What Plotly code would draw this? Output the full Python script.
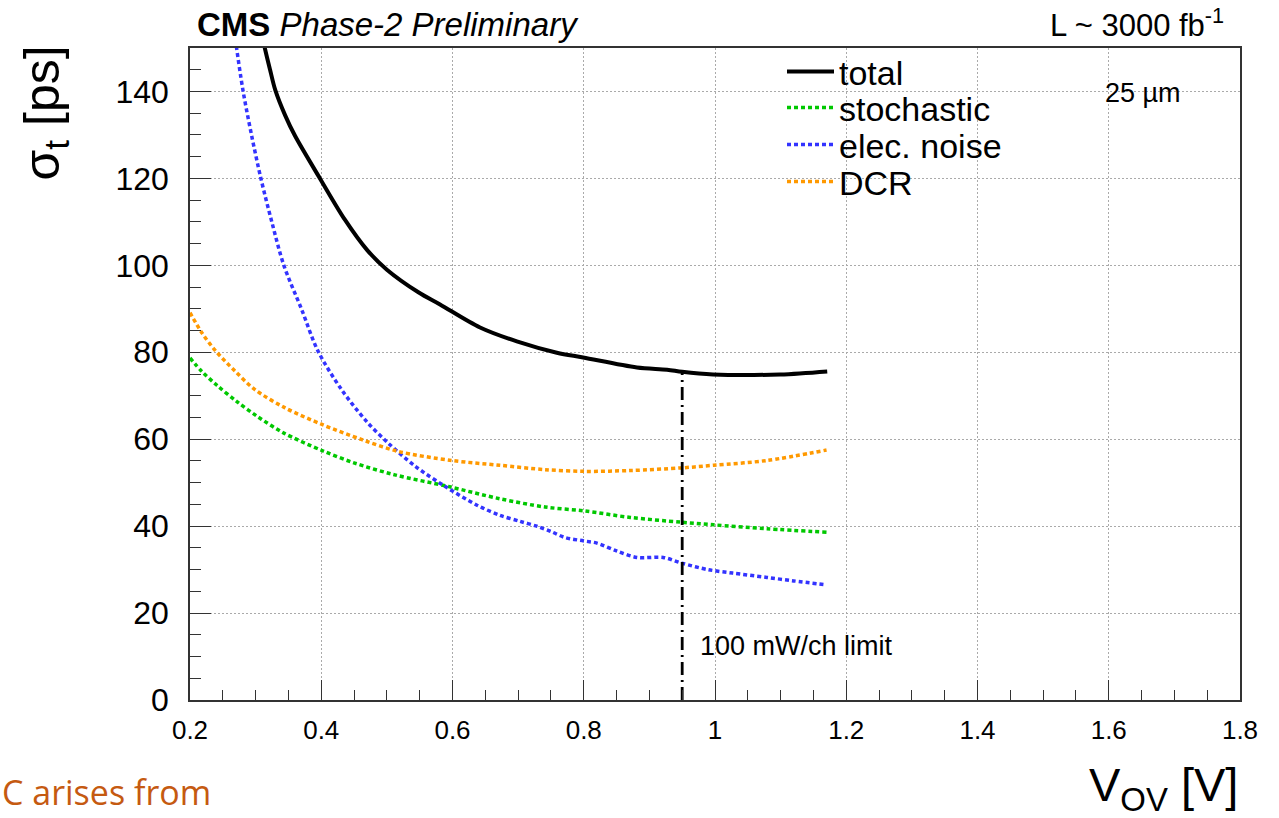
import numpy as np
import plotly.graph_objects as go

# ---------------- data ----------------
x_total = [0.300, 0.314, 0.322, 0.330, 0.345, 0.360, 0.398, 0.436, 0.470, 0.500, 0.548,
           0.581, 0.642, 0.698, 0.759, 0.799, 0.881, 0.927, 0.950, 0.997, 1.099, 1.171]
y_total = [160.0, 150.0, 145.0, 140.3, 134.5, 129.8, 120.0, 110.5, 103.5, 99.0, 93.8,
           91.0, 85.7, 82.5, 79.9, 78.8, 76.5, 76.0, 75.5, 74.9, 74.9, 75.6]

x_stoch = [0.200, 0.218, 0.241, 0.271, 0.302, 0.342, 0.401, 0.451, 0.512, 0.594, 0.672,
           0.741, 0.801, 0.871, 0.949, 0.998, 1.079, 1.170]
y_stoch = [78.7, 75.6, 72.4, 68.7, 65.3, 61.5, 57.4, 54.5, 51.8, 49.1, 46.3,
           44.4, 43.5, 42.0, 40.9, 40.3, 39.4, 38.6]

x_noise = [0.262, 0.271, 0.281, 0.294, 0.308, 0.325, 0.343, 0.370, 0.395, 0.431, 0.469,
           0.502, 0.543, 0.589, 0.639, 0.672, 0.703, 0.730, 0.751, 0.771, 0.800, 0.820,
           0.850, 0.881, 0.921, 0.949, 0.989, 1.027, 1.079, 1.120, 1.170]
y_noise = [160.0, 150.0, 140.0, 129.8, 120.0, 109.8, 100.0, 89.9, 80.3, 71.4, 64.1,
           59.1, 53.8, 49.1, 44.7, 42.5, 41.1, 39.9, 38.7, 37.4, 36.6, 36.1,
           34.3, 32.8, 32.8, 31.5, 30.0, 29.2, 28.2, 27.4, 26.5]

x_dcr = [0.200, 0.218, 0.238, 0.269, 0.299, 0.345, 0.401, 0.462, 0.517, 0.599, 0.672,
         0.741, 0.801, 0.871, 0.949, 0.998, 1.079, 1.170]
y_dcr = [89.1, 84.5, 80.5, 75.6, 71.4, 67.2, 63.4, 59.9, 57.2, 55.1, 54.0,
         53.0, 52.6, 52.8, 53.4, 54.0, 55.1, 57.5]

power_limit_v = 0.95

x_tickvals = [0.2, 0.4, 0.6, 0.8, 1.0, 1.2, 1.4, 1.6, 1.8]
x_ticktext = ["0.2", "0.4", "0.6", "0.8", "1", "1.2", "1.4", "1.6", "1.8"]
y_tickvals = [0, 20, 40, 60, 80, 100, 120, 140]
y_ticktext = ["0", "20", "40", "60", "80", "100", "120", "140"]

# ---------------- figure ----------------
FONT = "Liberation Sans, Arial, Helvetica, sans-serif"
W, H = 1279, 818
L, R, T, B = 190, 39, 48, 118
pw, ph = W - L - R, H - T - B


def px2paper_x(p):
    return (p - L) / pw


def px2paper_y(p):
    return (H - B - p) / ph


fig = go.Figure()

dotdash = "4px,3px"
series = [
    ("total", x_total, y_total, dict(color="black", width=4), "legend", 72),
    ("stochastic", x_stoch, y_stoch, dict(color="#00c800", width=3.5, dash=dotdash), "legend2", 108),
    ("elec. noise", x_noise, y_noise, dict(color="#3333ff", width=3.5, dash=dotdash), "legend3", 145),
    ("DCR", x_dcr, y_dcr, dict(color="#ff9900", width=3.5, dash=dotdash), "legend4", 182),
]
legend_layouts = {}
for name, xs, ys, ln, leg, row_py in series:
    fig.add_trace(go.Scatter(x=xs, y=ys, mode="lines", name=name, legend=leg,
                             line=dict(shape="spline", smoothing=0.9, **ln)))
    legend_layouts[leg] = dict(
        x=px2paper_x(782), y=px2paper_y(row_py), xanchor="left", yanchor="middle",
        bgcolor="rgba(0,0,0,0)", borderwidth=0, itemwidth=47,
        font=dict(size=34, family=FONT, color="black"),
    )

# vertical power-limit line up to the total curve
y_at_limit = float(np.interp(power_limit_v, x_total, y_total))
fig.add_trace(go.Scatter(x=[power_limit_v, power_limit_v], y=[0, y_at_limit], mode="lines",
                         showlegend=False, hoverinfo="skip",
                         line=dict(color="black", width=2.8, dash="13px,5px,2px,5px")))

axis_common = dict(
    showline=True, linecolor="#333333", linewidth=1.5, mirror=True,
    showgrid=True, gridcolor="#aaaaaa", gridwidth=1, griddash="2px,2px",
    ticks="inside", tickcolor="#333333", tickwidth=1.2,
    zeroline=False, tickfont=dict(family=FONT, color="black"),
)

fig.update_xaxes(**axis_common, range=[0.2, 1.8], tickvals=x_tickvals, ticktext=x_ticktext,
                 ticklen=20, tickfont_size=26, ticklabelstandoff=6,
                 minor=dict(dtick=0.05, tick0=0.2, ticks="inside", ticklen=10,
                            tickcolor="#333333", tickwidth=1.2, showgrid=False))
fig.update_yaxes(**axis_common, range=[0, 150], tickvals=y_tickvals, ticktext=y_ticktext,
                 ticklen=21, tickfont_size=32, ticklabelstandoff=13,
                 minor=dict(dtick=5, tick0=0, ticks="inside", ticklen=11,
                            tickcolor="#333333", tickwidth=1.2, showgrid=False))

# white boxes (legend pave and label pave) hiding the grid
shapes = [
    dict(type="rect", xref="paper", yref="paper", layer="between",
         x0=px2paper_x(775), x1=px2paper_x(1018), y0=px2paper_y(204), y1=px2paper_y(55),
         fillcolor="white", line=dict(width=0)),
    dict(type="rect", xref="paper", yref="paper", layer="between",
         x0=px2paper_x(1075), x1=px2paper_x(1212), y0=px2paper_y(120), y1=px2paper_y(63),
         fillcolor="white", line=dict(width=0)),
]

annotations = [
    # header
    dict(text="<b>CMS</b> <i>Phase-2 Preliminary</i>", x=px2paper_x(195), y=px2paper_y(45),
         xanchor="left", yanchor="bottom", font=dict(size=33, family=FONT, color="black")),
    dict(text="L ~ 3000 fb<sup>-1</sup>", x=px2paper_x(1226), y=px2paper_y(45),
         xanchor="right", yanchor="bottom", font=dict(size=31, family=FONT, color="black")),
    dict(text="25 µm", x=px2paper_x(1143), y=px2paper_y(93), xanchor="center", yanchor="middle",
         font=dict(size=27, family=FONT, color="black")),
    # power limit label
    dict(text="100 mW/ch limit", x=px2paper_x(698), y=px2paper_y(646), xanchor="left",
         yanchor="middle", font=dict(size=27, family=FONT, color="black")),
    # axis titles
    dict(text="σ<sub>t</sub> [ps]", x=px2paper_x(45), y=px2paper_y(44), textangle=-90,
         xanchor="center", yanchor="top", font=dict(size=50, family=FONT, color="black")),
    dict(text="V<sub>OV</sub> [V]", x=px2paper_x(1240), y=px2paper_y(756),
         xanchor="right", yanchor="top", font=dict(size=47, family=FONT, color="black")),
    # stray slide text at bottom-left
    dict(text="C arises from", x=px2paper_x(0), y=px2paper_y(792), xanchor="left",
         yanchor="middle", font=dict(size=34, family="Open Sans, sans-serif", color="#c55a11")),
]
for a in annotations:
    a.update(xref="paper", yref="paper", showarrow=False)

fig.update_layout(
    width=W, height=H,
    margin=dict(l=L, r=R, t=T, b=B, autoexpand=False),
    paper_bgcolor="white", plot_bgcolor="white",
    font=dict(family=FONT, color="black"),
    annotations=annotations,
    shapes=shapes,
    **legend_layouts,
)

fig.write_html("out.html")
